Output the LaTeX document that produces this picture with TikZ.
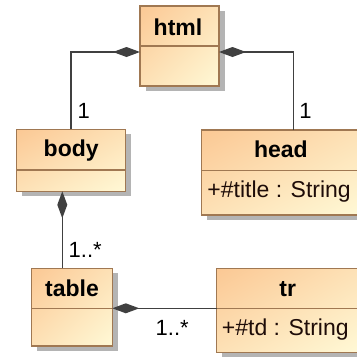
\documentclass[tikz,border=0pt]{standalone}
\usepackage{fontspec}
\setmainfont{Liberation Sans}
\usetikzlibrary{arrows.meta,calc,shadows,shadings}
\definecolor{peach}{RGB}{251,200,148}
\definecolor{cream}{RGB}{255,249,214}
\definecolor{midtone}{RGB}{253,225,182}
\definecolor{umlborder}{RGB}{160,120,82}
\definecolor{umlshadow}{RGB}{180,180,180}
\definecolor{conn}{RGB}{64,64,64}
\definecolor{attrtext}{RGB}{30,12,8}
\begin{document}
\begin{tikzpicture}[x=1pt,y=-1pt,
  classbox/.style={rectangle, draw=umlborder, line width=1.5pt, inner sep=0pt, outer sep=0pt,
    anchor=north west, upper left=peach, lower right=cream, upper right=midtone, lower left=midtone,
    drop shadow={shadow xshift=5.5pt, shadow yshift=-5pt, fill=umlshadow, opacity=1, draw=none}},
  divider/.style={draw=umlborder, line width=1.5pt},
  classname/.style={font=\fontsize{23}{27}\selectfont\bfseries, inner sep=0pt, anchor=base},
  attr/.style={font=\fontsize{23}{27}\selectfont, text=attrtext, inner sep=0pt, anchor=base west},
  mult/.style={font=\fontsize{22}{26}\selectfont, inner sep=0pt, anchor=base west},
  comp/.style={draw=conn, line width=1.5pt, -{Diamond[length=27pt,width=10pt,fill=conn]}}]
\clip[use as bounding box] (0,0) rectangle (357,357);
% classes
\node[classbox, minimum width=79pt, minimum height=80pt] (html) at (140,6) {};
\node[classbox, minimum width=109pt, minimum height=62pt] (body) at (16.7,129.3) {};
\node[classbox, minimum width=158.3pt, minimum height=85pt] (head) at (201.7,130) {};
\node[classbox, minimum width=80.6pt, minimum height=77.7pt] (table) at (31.7,268.3) {};
\node[classbox, minimum width=142pt, minimum height=84.4pt] (tr) at (216.7,268.3) {};
% dividers
\draw[divider] ($(html.north west)+(0,40)$) -- ($(html.north east)+(0,40)$);
\draw[divider] ($(body.north west)+(0,40.7)$) -- ($(body.north east)+(0,40.7)$);
\draw[divider] ($(head.north west)+(0,40.7)$) -- ($(head.north east)+(0,40.7)$);
\draw[divider] ($(table.north west)+(0,40)$) -- ($(table.north east)+(0,40)$);
\draw[divider] ($(tr.north west)+(0,40)$) -- ($(tr.north east)+(0,40)$);
% names
\node[classname] (htmlname) at ($(html.north)+(-1.5,29)$) {html};
\node[classname] (bodyname) at ($(body.north)+(0,27)$) {body};
\node[classname] (headname) at ($(head.north)+(0,27)$) {head};
\node[classname] (tablename) at ($(table.north)+(0,28)$) {table};
\node[classname] (trname) at ($(tr.north)+(0,28)$) {tr};
% attributes
\node[attr] (headattr) at ($(head.north west)+(5.5,67)$) {+\#title : String};
\node[attr] (tdattr) at ($(tr.north west)+(5,67.4)$) {+\#td : String};
% connectors
\draw[comp] (body.north) |- ($(html.west)+(0,6)$);
\draw[comp] ($(head.north west)+(91.6,0)$) |- ($(html.east)+(0,6)$);
\draw[comp] ($(table.north west)+(30.6,0)$) -- ($(body.south west)+(45.6,0)$);
\draw[comp] ($(tr.north west)+(0,40)$) -- ($(table.north east)+(0,40)$);
% multiplicities
\node[mult] (m1) at (77.5,118) {1};
\node[mult] (m2) at (299.2,118) {1};
\node[mult] (m3) at (68.5,257) {1..*};
\node[mult] (m4) at (155.5,335.5) {1..*};
\end{tikzpicture}
\end{document}
